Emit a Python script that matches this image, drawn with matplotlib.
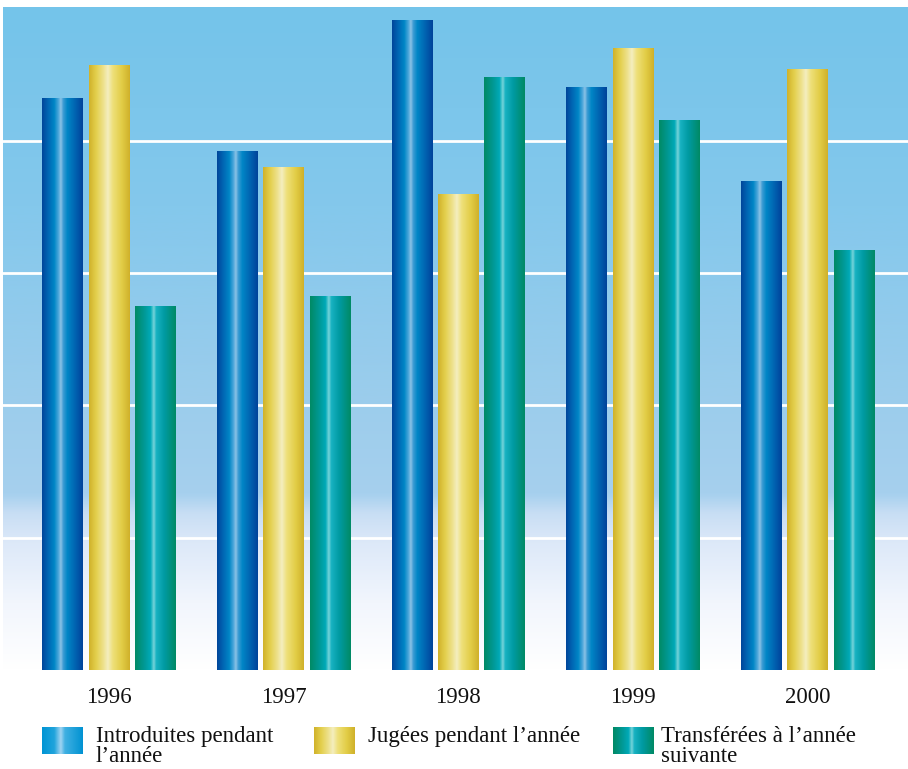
import numpy as np
import matplotlib
matplotlib.use("Agg")
import matplotlib.pyplot as plt
from matplotlib.colors import LinearSegmentedColormap

# ---- data ----
years = ["1996", "1997", "1998", "1999", "2000"]
introduites = [432, 392, 491, 440, 369]
jugees = [457, 380, 359, 470, 454]
transferees = [275, 282, 448, 415, 317]
series_labels = ["Introduites pendant\nl\u2019ann\u00e9e",
                 "Jug\u00e9es pendant l\u2019ann\u00e9e",
                 "Transf\u00e9r\u00e9es \u00e0 l\u2019ann\u00e9e\nsuivante"]

FONT = ["Liberation Serif", "DejaVu Serif"]

blue_cm = LinearSegmentedColormap.from_list("b", [
    (0.0, "#00459A"), (0.15, "#0066B4"), (0.3, "#0086C6"), (0.40, "#4AA6DA"),
    (0.46, "#8CC3E6"), (0.52, "#3C9CD4"), (0.62, "#0086C6"), (0.82, "#0062B0"),
    (1.0, "#00429A")])
yellow_cm = LinearSegmentedColormap.from_list("y", [
    (0.0, "#D0B22A"), (0.18, "#E4D04E"), (0.36, "#EEE290"), (0.46, "#F4EEC0"),
    (0.58, "#EEE07A"), (0.8, "#E2CD46"), (1.0, "#CFB02A")])
teal_cm = LinearSegmentedColormap.from_list("t", [
    (0.0, "#008A64"), (0.22, "#009894"), (0.38, "#00AAB8"), (0.46, "#78D4DA"),
    (0.52, "#18B2C2"), (0.72, "#009AA2"), (1.0, "#008A64")])
blue_leg = LinearSegmentedColormap.from_list("bl", [
    (0.0, "#0094D4"), (0.3, "#20A4DC"), (0.46, "#A0D4F2"), (0.56, "#40B0E2"),
    (1.0, "#0092D2")])
cmaps = [blue_cm, yellow_cm, teal_cm]
leg_cmaps = [blue_leg, yellow_cm, teal_cm]

W, H = 908, 769
fig = plt.figure(figsize=(W / 100, H / 100), dpi=100)
ax = fig.add_axes([3 / W, 1 - 670 / H, 905 / W, 663 / H])

x = np.arange(len(years))
bw = 0.234
off = 0.265
xlim = (-0.607, 4.574)
ylim = (0, 501)
ax.set_xlim(*xlim)
ax.set_ylim(*ylim)

# background gradient
bg = LinearSegmentedColormap.from_list("bg", [
    (0.0, "#FFFFFF"), (0.10, "#F2F6FD"), (0.19, "#DDE9F9"), (0.235, "#C8DEF4"),
    (0.265, "#A6D0EE"), (0.40, "#9CCDEC"), (0.7, "#84C8EC"), (1.0, "#74C4EA")])
grad = np.linspace(0, 1, 512).reshape(-1, 1)
ax.imshow(grad, extent=(xlim[0], xlim[1], ylim[0], ylim[1]), origin="lower",
          aspect="auto", cmap=bg, zorder=0, interpolation="bicubic")

for gy in [100, 200, 300, 400]:
    ax.axhline(gy, color="white", lw=2.0, zorder=1)

hgrad = np.linspace(0, 1, 256).reshape(1, -1)
for i, (vals, cm) in enumerate(zip([introduites, jugees, transferees], cmaps)):
    bars = ax.bar(x + (i - 1) * off, vals, width=bw, color="none", zorder=2)
    for b in bars:
        x0, w, h = b.get_x(), b.get_width(), b.get_height()
        ax.imshow(hgrad, extent=(x0, x0 + w, 0, h), origin="lower",
                  aspect="auto", cmap=cm, zorder=3, interpolation="bilinear")

ax.set_xlim(*xlim)
ax.set_ylim(*ylim)
ax.set_xticks(x)
ax.set_xticklabels(years, fontfamily=FONT, fontsize=16.5, color="#111111")
ax.tick_params(axis="x", length=0, pad=12)
ax.set_yticks([])
for s in ax.spines.values():
    s.set_visible(False)

# legend (pixel-coordinate overlay)
lax = fig.add_axes([0, 0, 1, 1], zorder=5)
lax.set_xlim(0, W)
lax.set_ylim(H, 0)
lax.axis("off")
lax.patch.set_alpha(0)
patch_x = [42, 314, 613]
text_x = [96, 368, 661]
for px, tx, lab, cm in zip(patch_x, text_x, series_labels, leg_cmaps):
    lax.imshow(hgrad, extent=(px, px + 41, 754, 727), aspect="auto", cmap=cm,
               interpolation="bilinear")
    lines = lab.split("\n")
    lax.text(tx, 742, lines[0], fontfamily=FONT, fontsize=16.5,
             va="baseline", ha="left", color="#111111")
    if len(lines) > 1:
        lax.text(tx, 762, lines[1], fontfamily=FONT, fontsize=16.5,
                 va="baseline", ha="left", color="#111111")
lax.set_xlim(0, W)
lax.set_ylim(H, 0)

fig.savefig("out.png", dpi=100)
